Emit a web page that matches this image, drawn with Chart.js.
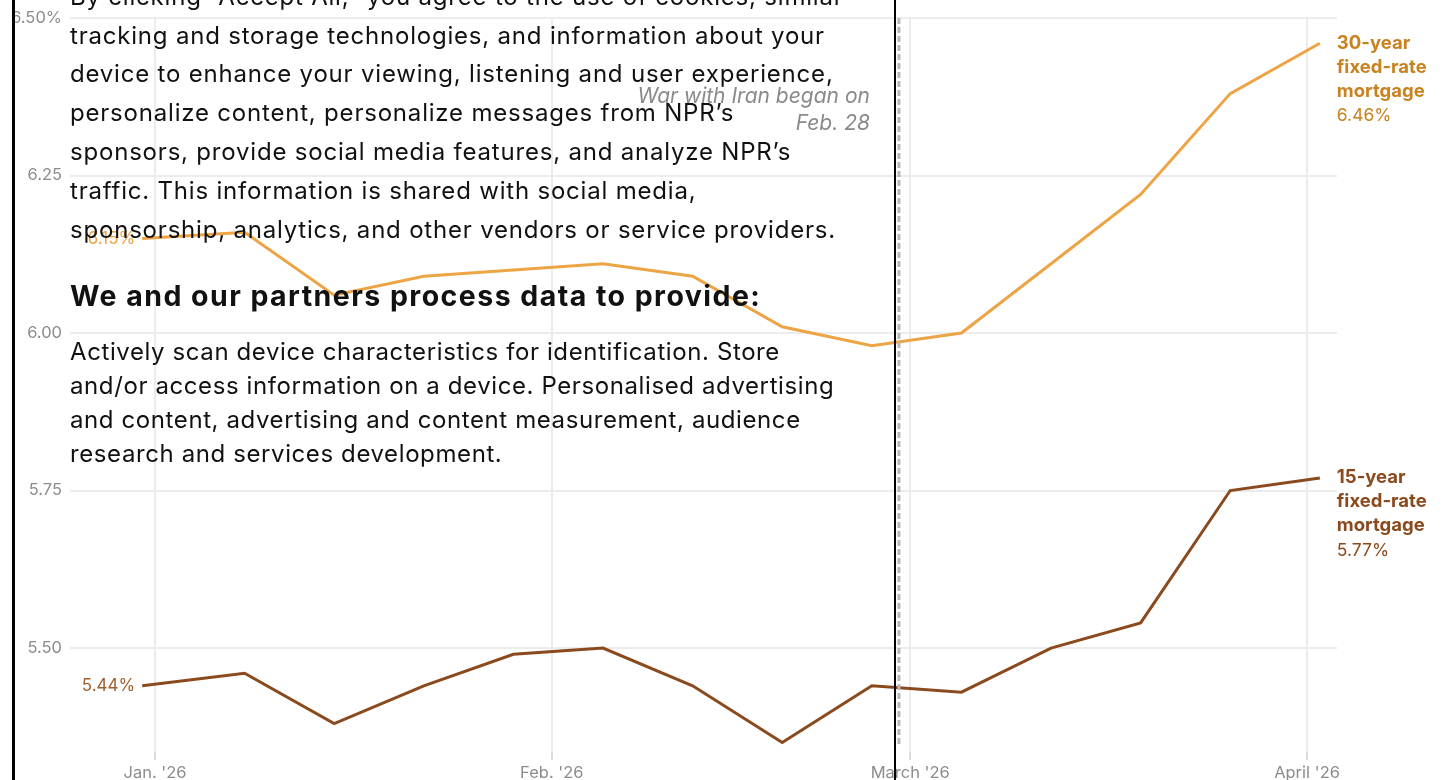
<!DOCTYPE html>
<html>
<head>
<meta charset="utf-8">
<script src="https://cdn.jsdelivr.net/npm/chart.js@4"></script>
<style>
  html, body { margin: 0; padding: 0; background: #fff; }
  #wrap { position: relative; width: 1445px; height: 780px; overflow: hidden; }
  #chartBox { position: absolute; left: 0; top: 0; width: 1445px; height: 780px; }
  #consent {
    position: absolute; left: 12px; top: -40px; width: 879px; height: 900px;
    border-left: 3px solid #000; border-right: 2px solid #000;
    font-family: Inter, "Noto Sans", sans-serif; color: #111;
  }
  #consent .line { position: absolute; left: 55px; white-space: nowrap; font-size: 24px; letter-spacing: 0.8px; line-height: 30px; }
  #consent .p2 { letter-spacing: 0.6px; }
  #consent .head { font-weight: 700; font-size: 28.5px; letter-spacing: 1.45px; }
</style>
</head>
<body>
<div id="wrap">
  <div id="chartBox"><canvas id="myChart"></canvas></div>
  <div id="consent"></div>
</div>
<script>
// weekly survey dates, as day offsets from Jan. 1, 2026
let days = [-1, 7, 14, 21, 28, 35, 42, 49, 56, 63, 70, 77, 84, 91];
let rate30 = [6.15, 6.16, 6.06, 6.09, 6.10, 6.11, 6.09, 6.01, 5.98, 6.00, 6.11, 6.22, 6.38, 6.46];
let rate15 = [5.44, 5.46, 5.38, 5.44, 5.49, 5.50, 5.44, 5.35, 5.44, 5.43, 5.50, 5.54, 5.75, 5.77];
let monthDays = [0, 31, 59, 90];
let monthLabels = ["Jan. '26", "Feb. '26", "March '26", "April '26"];
let yTicks = [5.50, 5.75, 6.00, 6.25, 6.50];
let warDay = 58;

let col30 = '#eda445';
let col30Text = '#c98220';
let col15 = '#8b4a1e';
let col15Text = '#8b4a1e';

// cookie banner text lines that sit over the chart
let bannerLines = [
    ["By clicking \u201CAccept All,\u201D you agree to the use of cookies, similar", -3],
    ["tracking and storage technologies, and information about your", 36],
    ["device to enhance your viewing, listening and user experience,", 74],
    ["personalize content, personalize messages from NPR\u2019s", 113],
    ["sponsors, provide social media features, and analyze NPR\u2019s", 152],
    ["traffic. This information is shared with social media,", 191],
    ["sponsorship, analytics, and other vendors or service providers.", 230],
    ["We and our partners process data to provide:", 296, 'head'],
    ["Actively scan device characteristics for identification. Store", 352, 'p2'],
    ["and/or access information on a device. Personalised advertising", 386, 'p2'],
    ["and content, advertising and content measurement, audience", 420, 'p2'],
    ["research and services development.", 454, 'p2']
];

let consent = document.getElementById('consent');
bannerLines.forEach(l => {
    let d = document.createElement('div');
    d.className = 'line' + (l[2] ? ' ' + l[2] : '');
    d.textContent = l[0];
    d.style.top = (l[1] + 40 - 15) + 'px';
    consent.appendChild(d);
});

let toData = (xs, ys) => xs.map((x, i) => ({x: x, y: ys[i]}));

let labelPlugin = {
    id: 'labels',
    afterDatasetsDraw(chart) {
        let ctx = chart.ctx;
        let xs = chart.scales.x, ys = chart.scales.y;
        let area = chart.chartArea;
        ctx.save();

        // dashed line for start of war
        let wx = xs.getPixelForValue(warDay) + 1.5;
        ctx.strokeStyle = '#b8b8b8';
        ctx.lineWidth = 3;
        ctx.setLineDash([6, 3]);
        ctx.beginPath();
        ctx.moveTo(wx, area.top);
        ctx.lineTo(wx, area.bottom - 6);
        ctx.stroke();
        ctx.setLineDash([]);

        ctx.fillStyle = '#8a8a8a';
        ctx.font = 'italic 21px Inter, sans-serif';
        ctx.textAlign = 'right';
        ctx.textBaseline = 'middle';
        ctx.fillText('War with Iran began on', wx - 29, 97);
        ctx.fillText('Feb. 28', wx - 29, 124);

        // start labels
        ctx.font = '17px Inter, sans-serif';
        let x0 = xs.getPixelForValue(days[0]);
        ctx.fillStyle = col30;
        ctx.fillText(rate30[0].toFixed(2) + '%', x0 - 7, ys.getPixelForValue(rate30[0]));
        ctx.fillStyle = '#a15f2e';
        ctx.fillText(rate15[0].toFixed(2) + '%', x0 - 7, ys.getPixelForValue(rate15[0]));

        // end labels
        let n = days.length - 1;
        let xe = xs.getPixelForValue(days[n]) + 17;
        ctx.textAlign = 'left';
        [[rate30, '30-year', col30Text], [rate15, '15-year', col15Text]].forEach(s => {
            let y = ys.getPixelForValue(s[0][n]);
            ctx.fillStyle = s[2];
            ctx.font = 'bold 18.5px Inter, sans-serif';
            ctx.fillText(s[1], xe, y);
            ctx.fillText('fixed-rate', xe, y + 24);
            ctx.fillText('mortgage', xe, y + 48);
            ctx.font = '17.5px Inter, sans-serif';
            ctx.fillText(s[0][n].toFixed(2) + '%', xe, y + 73);
        });
        ctx.restore();
    }
};

let context = document.getElementById('myChart');
let myChart = new Chart(context, {
    type: 'line',
    data: {
        datasets: [{
            data: toData(days, rate30),
            borderColor: col30,
            borderWidth: 3,
            pointRadius: 0,
            tension: 0
        }, {
            data: toData(days, rate15),
            borderColor: col15,
            borderWidth: 3,
            pointRadius: 0,
            tension: 0
        }]
    },
    options: {
        responsive: true,
        maintainAspectRatio: false,
        animation: false,
        events: [],
        layout: {padding: {top: 18, right: 108, left: 0, bottom: 0}},
        plugins: {legend: {display: false}, tooltip: {enabled: false}},
        scales: {
            x: {
                type: 'linear',
                min: -6.64,
                max: 92.34,
                afterBuildTicks: s => { s.ticks = monthDays.map(v => ({value: v})); },
                afterFit: s => { s.height = 28; },
                ticks: {
                    callback: (v) => monthLabels[monthDays.indexOf(v)],
                    color: '#8c8c8c',
                    font: {family: 'Inter', size: 16.5},
                    padding: 3,
                    maxRotation: 0,
                    autoSkip: false
                },
                grid: {color: '#ececec', lineWidth: 2, tickLength: 8, tickColor: '#dcdcdc'},
                border: {display: false}
            },
            y: {
                min: 5.335,
                max: 6.50,
                afterBuildTicks: s => { s.ticks = yTicks.map(v => ({value: v})); },
                afterFit: s => { s.width = 70; },
                ticks: {
                    callback: (v) => v === 6.5 ? '6.50%' : v.toFixed(2),
                    color: '#8c8c8c',
                    font: {family: 'Inter', size: 16.5},
                    padding: 8
                },
                grid: {color: '#ececec', lineWidth: 2, drawTicks: false},
                border: {display: false}
            }
        }
    },
    plugins: [labelPlugin]
});
</script>
</body>
</html>
